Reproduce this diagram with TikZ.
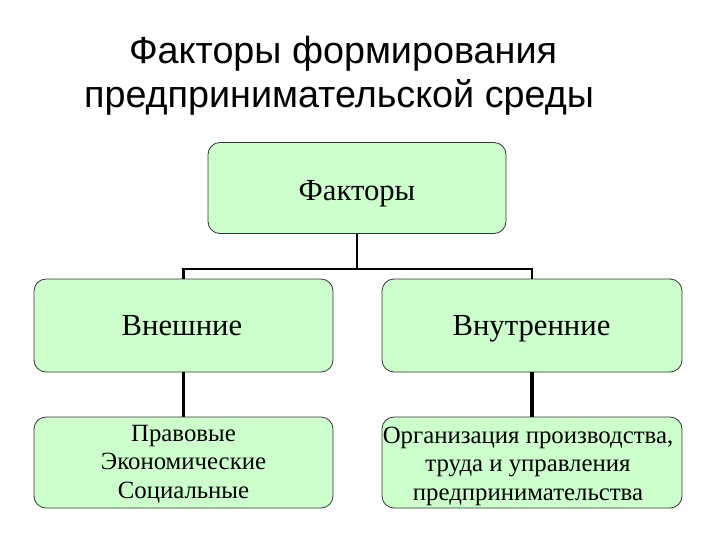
\documentclass[tikz,border=0pt]{standalone}
\usepackage{fontspec}
\setmainfont{Liberation Serif}
\newfontfamily\titlefont{Liberation Sans}
\begin{document}
\begin{tikzpicture}[x=0.75pt,y=-0.75pt,
  box/.style={draw=black!80,line width=0.6pt,fill=boxgreen,rounded corners=9pt,inner sep=0pt},
  bigtext/.style={anchor=base,inner sep=0pt,font=\fontsize{23pt}{27pt}\selectfont},
  smalltext/.style={anchor=base,inner sep=0pt,align=center,font=\fontsize{18.6pt}{21.2pt}\selectfont},
  titletext/.style={anchor=base,inner sep=0pt,font=\titlefont\fontsize{28.3pt}{30pt}\selectfont},
  conn/.style={draw=black,line width=1.6pt},
  connb/.style={draw=black,line width=2.3pt}]
\definecolor{boxgreen}{HTML}{CCFFCC}
\useasboundingbox (0,0) rectangle (720,540);
\node[titletext] (t1) at (343,63) {Факторы формирования};
\node[titletext] (t2) at (339,107) {предпринимательской среды};
\node[box,minimum width=298*0.75pt,minimum height=91*0.75pt] (f) at (357,188) {};
\node[box,minimum width=299*0.75pt,minimum height=93*0.75pt] (vn) at (183.5,325.5) {};
\node[box,minimum width=300*0.75pt,minimum height=93*0.75pt] (vt) at (532,325.5) {};
\node[box,minimum width=299*0.75pt,minimum height=91*0.75pt] (vn2) at (183.5,462.5) {};
\node[box,minimum width=300*0.75pt,minimum height=91*0.75pt] (vt2) at (532,462.5) {};
\node[bigtext] (ftxt) at (357,200) {Факторы};
\node[bigtext] (vntxt) at (182,335) {Внешние};
\node[bigtext] (vttxt) at (531.5,335) {Внутренние};
\node[smalltext] (vn2txt) at (183.5,498) {Правовые\\Экономические\\Социальные};
\node[smalltext] (vt2txt) at (528,500) {Организация производства,\\труда и управления\\предпринимательства};
\draw[conn] (f.south) -- ++(0,35) coordinate (j);
\draw[conn] (j) -| (vn.north);
\draw[conn] (j) -| (vt.north);
\draw[connb] (vn.south) -- (vn2.north);
\draw[connb] (vt.south) -- (vt2.north);
\end{tikzpicture}
\end{document}
